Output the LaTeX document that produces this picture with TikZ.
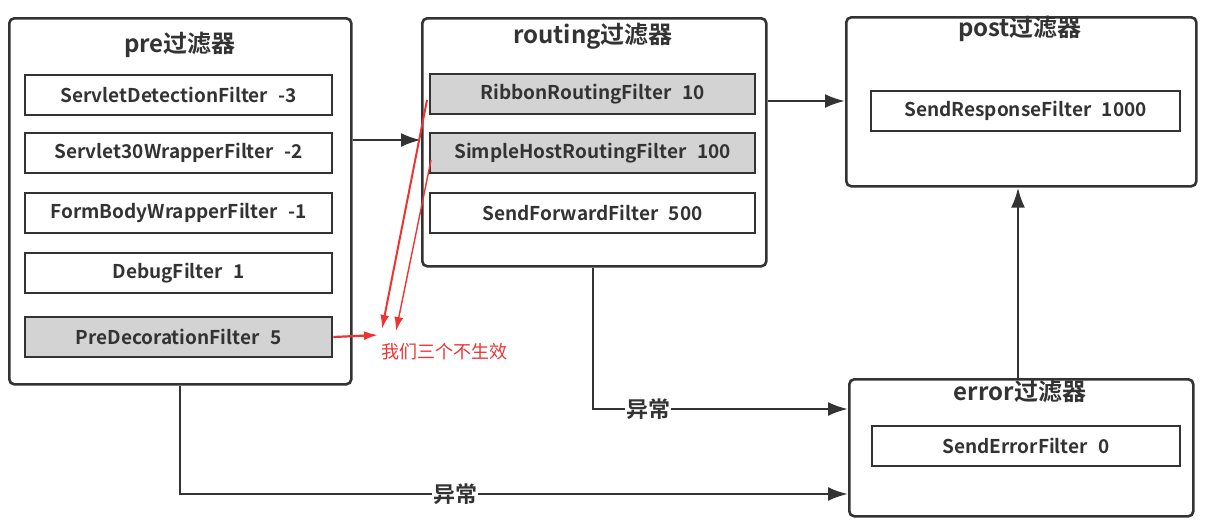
\documentclass[tikz,border=0pt]{standalone}
\usepackage{fontspec}
\setmainfont{Noto Sans CJK SC}[BoldFont=Noto Sans CJK SC Bold]
\usetikzlibrary{arrows.meta}
\definecolor{ink}{HTML}{333333}
\definecolor{fillgray}{HTML}{D3D3D3}
\definecolor{redline}{HTML}{EE3333}
\newcommand{\gapx}{\hspace{0.55em}}
\tikzset{
  group/.style={draw=ink, line width=2.6pt, rounded corners=5pt, fill=white},
  filt/.style={draw=ink, line width=2.6pt, fill=white, font=\fontsize{19}{22}\selectfont\bfseries, text=ink, anchor=center},
  grayfilt/.style={filt, fill=fillgray},
  ttl/.style={font=\fontsize{24}{28}\selectfont\bfseries, text=ink},
  conn/.style={draw=ink, line width=2.6pt, -{Latex[length=20pt,width=14pt]}},
  lbl/.style={font=\fontsize{22}{26}\selectfont\bfseries, text=ink, fill=white, inner sep=1pt},
  redarr/.style={draw=redline, -{Latex[length=14pt,width=9pt]}},
}
\begin{document}
\begin{tikzpicture}[x=1pt,y=-1pt]
\useasboundingbox (0,0) rectangle (1217,528);
% groups
\node[group, minimum width=342pt, minimum height=366pt, anchor=north west] (pre) at (8,17) {};
\node[group, minimum width=344pt, minimum height=248pt, anchor=north west] (routing) at (421,17) {};
\node[group, minimum width=350pt, minimum height=169pt, anchor=north west] (post) at (845,16) {};
\node[group, minimum width=344pt, minimum height=137pt, anchor=north west] (error) at (848,378) {};
% titles
\node[ttl] (preT) at (180,45) {pre过滤器};
\node[ttl] (routT) at (593,36) {routing过滤器};
\node[ttl] (postT) at (1020,29) {post过滤器};
\node[ttl] (errT) at (1020,391) {error过滤器};
% pre filters
\node[filt, minimum width=307pt, minimum height=40pt] (f1) at (178.5,95) {ServletDetectionFilter\gapx-3};
\node[filt, minimum width=307pt, minimum height=40pt] (f2) at (178.5,153) {Servlet30WrapperFilter\gapx-2};
\node[filt, minimum width=307pt, minimum height=40pt] (f3) at (178.5,213) {FormBodyWrapperFilter\gapx-1};
\node[filt, minimum width=307pt, minimum height=40pt] (f4) at (178.5,273) {DebugFilter\gapx1};
\node[grayfilt, minimum width=307pt, minimum height=40pt] (f5) at (178.5,337) {PreDecorationFilter\gapx5};
% routing filters
\node[grayfilt, minimum width=325pt, minimum height=40pt] (r1) at (592.5,94) {RibbonRoutingFilter\gapx10};
\node[grayfilt, minimum width=325pt, minimum height=40pt] (r2) at (592.5,153) {SimpleHostRoutingFilter\gapx100};
\node[filt, minimum width=325pt, minimum height=40pt] (r3) at (592.5,213) {SendForwardFilter\gapx500};
% post filter
\node[filt, minimum width=309pt, minimum height=40pt] (p1) at (1025.5,111) {SendResponseFilter\gapx1000};
% error filter
\node[filt, minimum width=308pt, minimum height=40pt] (e1) at (1026,446) {SendErrorFilter\gapx0};
% connectors
\draw[conn] (pre.east |- 0,140) -- (routing.west |- 0,140);
\draw[conn] (routing.east |- 0,101) -- (post.west |- 0,101);
\draw[conn] (error.north -| 1018,0) -- (post.south -| 1018,0);
\coordinate (rc) at (593,409);
\draw[conn] (routing.south -| 593,0) -- (rc) -- (error.west |- rc);
\node[lbl] (l1) at (648,409) {异常};
\coordinate (pc) at (180,494);
\draw[conn] (pre.south -| 180,0) -- (pc) -- (error.west |- pc);
\node[lbl] (l2) at (455,494) {异常};
% red annotations
\node[text=redline, font=\fontsize{18}{21}\selectfont, anchor=west, inner sep=0pt] (note) at (381,352) {我们三个不生效};
\coordinate (ra) at (427,100);
\coordinate (rb) at (431,160);
\draw[redarr, line width=2.2pt] (f5.east) -- (378,335);
\draw[redarr, line width=2pt] (ra) -- (382,329);
\draw[redarr, line width=1.4pt] (rb) -- (396,331);
\end{tikzpicture}
\end{document}
